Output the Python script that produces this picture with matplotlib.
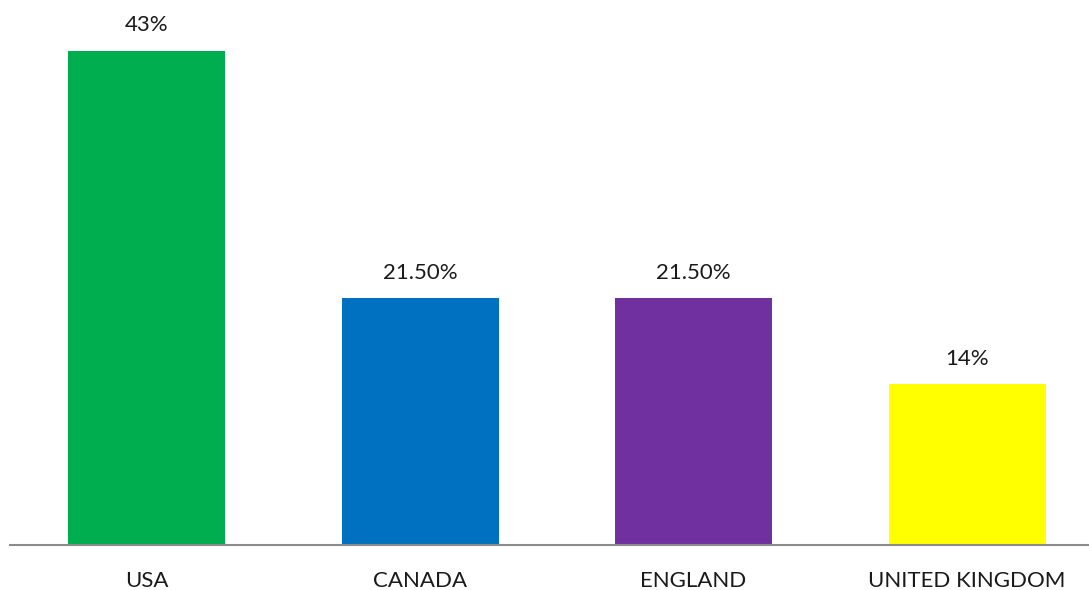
import matplotlib.pyplot as plt

plt.rcParams['font.family'] = ['Lato', 'DejaVu Sans']

countries = ["USA", "CANADA", "ENGLAND", "UNITED KINGDOM"]
shares = [43, 21.5, 21.5, 14]
share_labels = ["43%", "21.50%", "21.50%", "14%"]
colors = ["#00ad4f", "#0070c0", "#7030a0", "#ffff00"]

fig = plt.figure(figsize=(10.89, 5.90), dpi=100)
ax = fig.add_axes([0, 45 / 590, 1, 545 / 590])

x = range(len(countries))
rects = ax.bar(x, shares, width=0.574, color=colors)
ax.bar_label(rects, labels=share_labels, padding=11, fontsize=16, color="#1a1a1a")

ax.set_xlim(-0.5 - 9.75 / 273.5, 3.446)
ax.set_ylim(0, 47.4)
ax.set_xticks(list(x), countries, fontsize=16, color="#1a1a1a")
ax.tick_params(axis="x", length=0, pad=19)
ax.set_yticks([])
for side in ("top", "right", "left"):
    ax.spines[side].set_visible(False)
ax.spines["bottom"].set_color("#8c8c8c")
ax.spines["bottom"].set_linewidth(1.5)
ax.spines["bottom"].set_bounds(-0.5, 3.446)

fig.savefig("out.png", dpi=100)
